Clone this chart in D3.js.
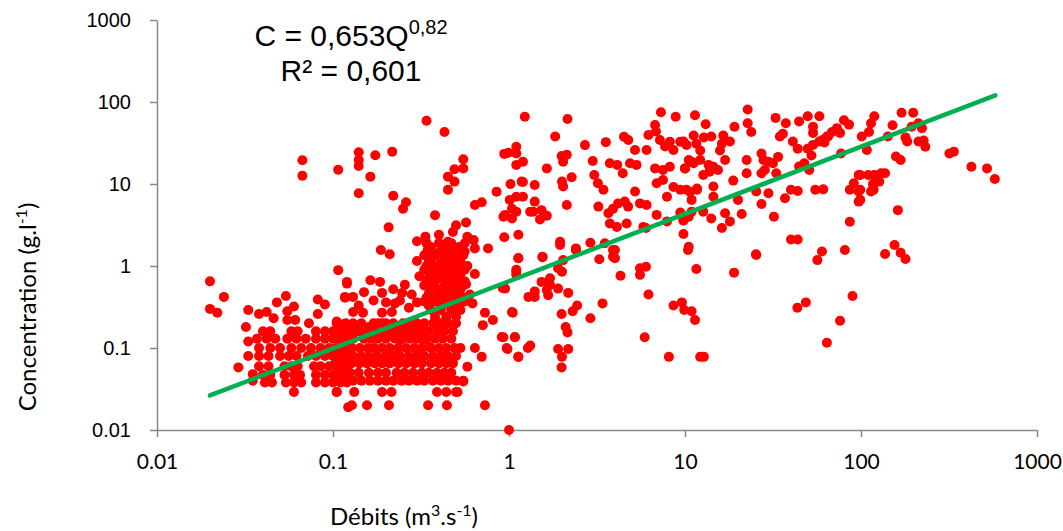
<!DOCTYPE html>
<html>
<head>
<meta charset="utf-8">
<script src="https://cdn.jsdelivr.net/npm/d3@7"></script>
<style>
  body { margin: 0; background: #fff; }
  svg { display: block; }
</style>
</head>
<body>
<svg width="1063" height="531"></svg>
<script>
// Débits Q (m3/s) vs concentration C (g/l)
const tickValues = [0.01, 0.1, 1, 10, 100, 1000];

// trend C = a * Q^b
const trendA = 0.653;
const trendB = 0.82;
const trendRange = [0.02, 580];

// sparse low flow points [Q, C]
const lowFlowPoints = [
  [0.02,0.65],[0.02,0.3],[0.022,0.27],[0.024,0.42],[0.029,0.058],
  [0.032,0.18],[0.033,0.29],[0.033,0.12],[0.033,0.08],[0.035,0.048],[0.035,0.04],
  [0.038,0.26],[0.042,0.275],[0.046,0.23],[0.048,0.36],[0.054,0.43],[0.06,0.32],
  [0.055,0.28],[0.055,0.22],[0.061,0.22],[0.073,0.2],[0.082,0.39],[0.09,0.34],[0.082,0.26],
  [0.107,0.89],[0.12,0.61],[0.117,0.41],[0.107,0.2],
  [0.06,0.029],[0.105,0.029],[0.122,0.019],
  [0.067,19.5],[0.067,12.6],[0.107,14.9]
];

// measured concentrations fall on fixed levels, so the dense part is read row by row
const lowRows = [
  {c:0.16, q:[0.04,0.044,0.058,0.063,0.08,0.09,0.1,0.11]},
  {c:0.13, q:[0.037,0.042,0.047,0.055,0.062,0.07,0.08,0.09,0.1,0.115]},
  {c:0.1, q:[0.038,0.044,0.05,0.058,0.066,0.075,0.085,0.095,0.11,0.12]},
  {c:0.08, q:[0.038,0.043,0.05,0.056,0.062,0.072,0.08,0.09,0.1,0.11,0.12]},
  {c:0.06, q:[0.038,0.043,0.053,0.058,0.063,0.078,0.085,0.095,0.105,0.12]},
  {c:0.047, q:[0.04,0.044,0.053,0.06,0.065,0.08,0.09,0.1,0.11,0.12]},
  {c:0.038, q:[0.041,0.045,0.054,0.06,0.066,0.08,0.09,0.1,0.11,0.12]}
];

const cloudRows = [
  {c:0.2, q:[0.105,0.118,0.13,0.145,0.17,0.19,0.2,0.22,0.25,0.27,0.3,0.33,0.37,0.41,0.45,0.5]},
  {c:0.16, q:[0.103,0.112,0.125,0.14,0.155,0.175,0.195,0.215,0.24,0.26,0.28,0.31,0.35,0.39,0.43,0.48]},
  {c:0.13, q:[0.108,0.12,0.13,0.15,0.165,0.18,0.2,0.225,0.25,0.275,0.3,0.34,0.38,0.42,0.47]},
  {c:0.1, q:[0.104,0.115,0.128,0.142,0.158,0.172,0.19,0.21,0.235,0.26,0.29,0.32,0.36,0.4,0.44,0.49,0.53]},
  {c:0.08, q:[0.106,0.118,0.13,0.145,0.16,0.178,0.2,0.22,0.24,0.27,0.3,0.33,0.37,0.41,0.45,0.5]},
  {c:0.065, q:[0.103,0.114,0.127,0.141,0.156,0.173,0.19,0.21,0.235,0.26,0.29,0.32,0.36,0.4,0.44,0.48]},
  {c:0.05, q:[0.11,0.125,0.14,0.16,0.18,0.2,0.23,0.255,0.285,0.32,0.35,0.39,0.43,0.47]},
  {c:0.04, q:[0.104,0.116,0.13,0.145,0.162,0.18,0.2,0.22,0.245,0.27,0.3,0.33,0.37,0.41,0.45,0.5,0.55]}
];

// tall column of points around Q 0.3 - 0.6
const columnRows = [
  {c:1.9, q:[0.34,0.4,0.47]},
  {c:1.7, q:[0.36,0.44,0.52]},
  {c:1.5, q:[0.35,0.41,0.49,0.56]},
  {c:1.35, q:[0.33,0.38,0.46,0.55]},
  {c:1.2, q:[0.36,0.43,0.5]},
  {c:1.1, q:[0.35,0.41,0.47,0.53]},
  {c:1.0, q:[0.34,0.39,0.45,0.55]},
  {c:0.9, q:[0.33,0.38,0.43,0.49,0.56]},
  {c:0.8, q:[0.36,0.41,0.47,0.53]},
  {c:0.72, q:[0.35,0.4,0.46,0.52]},
  {c:0.65, q:[0.34,0.38,0.44,0.5,0.56]},
  {c:0.58, q:[0.33,0.37,0.43,0.48,0.55]},
  {c:0.52, q:[0.36,0.41,0.47,0.53]},
  {c:0.46, q:[0.35,0.4,0.45,0.51]},
  {c:0.41, q:[0.34,0.39,0.44,0.5,0.56]},
  {c:0.37, q:[0.33,0.38,0.43,0.49,0.56]},
  {c:0.33, q:[0.35,0.41,0.46,0.52]},
  {c:0.29, q:[0.36,0.41,0.47,0.53]},
  {c:0.24, q:[0.38,0.44,0.5]}
];

const cloudPoints = [
  [0.12,0.64],[0.117,0.42],[0.13,0.42],[0.163,0.67],[0.15,0.48],[0.185,0.64],[0.19,0.47],
  [0.256,0.59],[0.247,0.47],[0.2,0.36],[0.225,0.35],[0.24,0.38],[0.216,0.275],[0.19,0.27],
  [0.27,0.31],[0.3,0.36],[0.13,0.275],[0.148,0.27],[0.105,0.21],[0.12,0.165],[0.137,0.175],
  [0.16,0.18],[0.18,0.2],[0.19,0.144],[0.23,0.165],[0.24,0.125],[0.267,0.136],[0.29,0.175],
  [0.33,0.156],[0.325,0.125],[0.355,0.103],[0.28,0.45],[0.22,0.52],[0.17,0.38],[0.14,0.33],
  [0.105,0.029],[0.132,0.029],[0.19,0.029],[0.215,0.029],[0.39,0.029],[0.44,0.029],[0.51,0.029],
  [0.128,0.02],[0.156,0.02],[0.208,0.02],[0.347,0.02],[0.444,0.02],[0.73,0.02],
  [1.13,1.25],[1.1,0.9],[0.92,0.54],[1.04,0.275],[0.91,0.136],[1.08,0.136],[0.97,0.1],
  [1.13,0.078],[1.28,0.1],[0.73,0.27],[0.81,0.22],[0.71,0.19],[0.64,0.1],[0.7,0.078],
  [0.58,0.059],[0.55,0.039],[0.5,0.029],[0.58,1.0],[0.64,0.8],[0.57,0.6],[0.62,0.35],[0.6,0.45],
  [0.3,2.0],[0.4,2.4],[0.48,2.6],[0.31,0.75],[0.3,1.15]
];

const upperLeftPoints = [
  [0.34,59],[0.43,43],[0.14,24.4],[0.14,19.6],[0.14,16.6],[0.174,22.4],[0.217,24.8],[0.163,12.3],
  [0.14,7.7],[0.22,7.2],[0.26,6],[0.25,5],[0.207,2.96],[0.187,1.57],[0.21,1.39],[0.38,4.15],
  [0.5,3.13],[0.57,3.4],[0.335,2.28],[0.345,1.57],[0.45,8.5],[0.45,12.3],[0.49,10.7],[0.49,15.1],
  [0.55,20],[0.55,15.5],[0.64,5.55],[0.7,6],[0.85,8.05],[0.93,4],[0.94,2.24],[1.13,2.4],
  [0.76,1.64],[0.63,2.07],[0.56,1.89],[0.64,1.64],[1.13,1.24],[1.23,66],[0.94,23.3],[0.99,24],
  [1.1,28.5],[1.1,23.6],[1.2,18.7],[1.1,17.1],[1.02,10],[1.2,10.6],[1.01,6.4],[1.1,7],[1.2,7],
  [1.04,5],[1.1,4.6],[0.95,4.2],[1.04,3.8],[1.32,4.6],[0.45,1.98],[0.39,1.43],[0.44,1.57],
  [0.5,1.43],[0.58,2.27]
];

const midFlowPoints = [
  [2.15,62],[1.83,38],[1.64,15.5],[1.99,22],[2.13,22.7],[2.03,18.7],[2.7,29.8],[2.99,19.1],
  [3.55,32.4],[3.05,12.9],[3.74,17.9],[4.12,17.1],[4.43,13.5],[4.5,37.7],[4.76,34.4],[5.2,26],
  [6.05,26],[6.76,52.3],[6.84,43.6],[7.3,75],[8.85,66],[11.4,69],[6.2,39.5],[7.2,34.4],[7.7,28.7],
  [8.2,32.8],[8.6,26],[9.4,32.8],[6.76,15.5],[7.5,14.8],[8.2,16.2],[10,15.5],[10.9,18.7],[12.2,19.6],
  [6.9,10.2],[7.5,11.2],[8.6,9.2],[9.4,8.5],[10.7,8],[11.7,8.8],[7.9,7],[5.2,8.1],[1.4,9.7],
  [1.18,10.7],[2,10.7],[2.03,9.3],[2.27,12.1],[3.2,10.2],[3.44,8.5],[1.4,6.1],[1.37,4.6],[1.53,4.8],
  [1.64,4.1],[1.5,3.7],[2.13,5.55],[3.22,5.3],[3.67,4.4],[3.9,5],[4.17,5.8],[4.55,6.1],[4.75,5.3],
  [3.74,3.3],[4.1,3.0],[4.66,3.3],[5.55,5.8],[6.05,5.55],[6.9,4.2],[7.9,3.5],[9.8,3.6],[10.2,4],
  [10.9,4.6],[9.8,2.46],[10.5,1.72],[5.8,3.0],[6,2.9],[1.95,1.98],[1.95,1.8],[2.4,1.64],[2.9,1.92],
  [3.5,1.89],[3.9,1.57],[3.9,1.3],[1.55,1.3],[4.87,17.9],[5.3,17.1],
  [1.55,1.28],[1.1,0.85],[1.1,0.78],[0.95,0.53],[1.53,0.64],[1.71,0.71],[1.71,0.59],[1.64,0.51],
  [1.9,0.53],[1.4,0.49],[1.29,0.42],[1.4,0.42],[1.67,0.44],[2.17,0.47],[1.9,0.94],[2.03,1.18],
  [2,0.85],[2.4,1.57],[3.26,1.21],[4.0,1.57],[4.0,1.24],[4.3,0.76],[5.55,0.78],[5.55,0.94],[6,0.98],
  [6.2,0.45],[10.4,1.57],[11.6,0.92],[1.05,0.27],[0.93,0.135],[1.08,0.135],[0.98,0.097],[1.13,0.078],
  [1.32,0.107],[1.99,0.26],[2.3,0.28],[2.44,0.33],[2.9,0.23],[3.4,0.35],[2.1,0.18],[2.15,0.155],
  [1.9,0.097],[2.17,0.097],[2.0,0.078],[1.99,0.058],[5.9,0.135],[8.6,0.33],[9.6,0.36],[9.9,0.29],
  [10.9,0.28],[11.4,0.22],[8.1,0.078],[12.2,0.078],[1.0,0.01]
];

const highFlowPoints = [
  [13.1,53.6],[22.7,81],[22.7,55],[23.8,43],[19.1,50],[32.7,64],[37.4,55],[44.5,58],[49.8,67],
  [53.4,50],[53.4,42],[58,67],[64,38],[68.4,43],[73,48],[80,60],[85.5,53],[76,42],[119,67],[114,55],
  [111,43],[101,38],[11.2,39],[14.1,38],[16.5,39],[12.8,37],[9.8,33],[10.2,30],[11.6,31],[12.2,25.6],
  [16.2,31],[18,33],[15.8,25.6],[34.6,38],[36,41],[41,33],[43.7,27],[49.8,27],[52.3,22.3],[53.4,30],
  [58,33],[60.5,34.4],[62,32],[65,38],[27.2,23.6],[27.9,19.6],[29.8,18.7],[33.8,21.4],[31.6,17.9],
  [22.4,19.6],[16.9,19.6],[10.5,19.6],[11.2,17.9],[10,15.5],[13.6,17.1],[14.5,16.2],[15.4,14.8],
  [12.7,12.9],[13.8,14.1],[22.4,13.5],[27.2,13.5],[28.4,14.8],[33,13.5],[44.5,16.3],[47.6,17.9],
  [50.8,14.8],[10.2,8.5],[11.7,8.5],[14.5,9.3],[14.5,7],[10.9,6.4],[18.8,11],[20,6.4],[21,4.3],
  [25.4,8.1],[29.8,7.7],[27.2,5.7],[37,6.7],[40,8.5],[43.7,8.2],[32,4],[55,8.5],[61,8.6],[9.4,4.5],
  [10.5,4],[9.8,3.6],[12.7,4.6],[14.1,3.8],[16.2,2.9],[16.9,4.4],[18,3.5],[25.3,1.39],[40,2.1],
  [43.7,2.1],[56.5,1.18],[60,1.5],[81,1.57],[86.4,3.47],[97,12.9],[91,10.2],[86.4,8.5],[97,8.1],
  [97,6.1],[110,12.9],[118,10.2],[118,8.5],[130,13.5],[108,26],[77,23.6],
  [19,0.83],[25.4,1.36],[12.8,0.078],[43.5,0.31],[48.6,0.36],[89.5,0.43],[76,0.215],[64,0.116],
  [170,74],[198,74],[151,52],[194,50],[212,55],[222,48],[142,38],[179,37],[183,33],[212,33],
  [227,34],[232,28.5],[158,21.6],[168,19.6],[318,23.6],[337,24.8],[424,16.2],[520,15.5],[576,11.5],
  [99,12.9],[119,12.9],[137,13.5],[117,9.9],[127,10.7],[99,8.5],[114,8.1],[99,6.4],[162,4.8],
  [155,1.8],[137,1.4],[168,1.45],[179,1.22]
];

function rowsToPoints(rows) {
  let out = [];
  rows.forEach(r => r.q.forEach(q => out.push([q, r.c])));
  return out;
}

const points = [].concat(
  lowFlowPoints, rowsToPoints(lowRows), rowsToPoints(cloudRows), rowsToPoints(columnRows),
  cloudPoints, upperLeftPoints, midFlowPoints, highFlowPoints
);

const svg = d3.select("svg");

const area = { left: 157, right: 1037, top: 20, bottom: 430 };

const scX = d3.scaleLog().domain([0.01, 1000]).range([area.left, area.right]);
const scY = d3.scaleLog().domain([0.01, 1000]).range([area.bottom, area.top]);

const axisColor = "#898989";

const axisX = d3.axisBottom(scX)
  .tickValues(tickValues)
  .tickFormat(d => String(d))
  .tickSize(7)
  .tickSizeOuter(0)
  .tickPadding(17);

const axisY = d3.axisLeft(scY)
  .tickValues(tickValues)
  .tickFormat(d => String(d))
  .tickSize(7)
  .tickSizeOuter(0)
  .tickPadding(19);

const gx = svg.append("g")
  .attr("transform", `translate(0, ${area.bottom})`)
  .call(axisX);
gx.selectAll("text")
  .style("font-family", "Lato, 'Open Sans', sans-serif")
  .style("font-size", "21px")
  .style("fill", "#000");

const gy = svg.append("g")
  .attr("transform", `translate(${area.left}, 0)`)
  .call(axisY);
gy.selectAll("text")
  .style("font-family", "'Liberation Sans', Arial, sans-serif")
  .style("font-size", "20px")
  .style("fill", "#000");

svg.selectAll(".domain, .tick line")
  .attr("stroke", axisColor)
  .attr("stroke-width", 1.5);

// points
svg.append("g")
  .selectAll("circle")
  .data(points)
  .enter()
  .append("circle")
  .attr("cx", d => scX(d[0]))
  .attr("cy", d => scY(d[1]))
  .attr("r", 5)
  .style("fill", "#ff0000");

// power trend line
const trendLine = d3.line()
  .x(d => scX(d))
  .y(d => scY(trendA * Math.pow(d, trendB)));

svg.append("path")
  .datum(trendRange)
  .attr("d", trendLine)
  .attr("fill", "none")
  .attr("stroke", "#00b050")
  .attr("stroke-width", 4.5)
  .attr("stroke-linecap", "round");

// equation
const eq = svg.append("text")
  .attr("x", 351)
  .attr("y", 46)
  .attr("text-anchor", "middle")
  .style("font-family", "'Liberation Sans', Arial, sans-serif")
  .style("font-size", "30px");
eq.append("tspan").text("C = 0,653Q");
eq.append("tspan").attr("dy", -12).style("font-size", "20px").text("0,82");

svg.append("text")
  .attr("x", 351)
  .attr("y", 81)
  .attr("text-anchor", "middle")
  .style("font-family", "'Liberation Sans', Arial, sans-serif")
  .style("font-size", "30px")
  .text("R² = 0,601");

// axis titles
const tx = svg.append("text")
  .attr("x", 404)
  .attr("y", 525)
  .attr("text-anchor", "middle")
  .style("font-family", "Lato, 'Open Sans', sans-serif")
  .style("font-size", "24px");
tx.append("tspan").text("Débits (m");
tx.append("tspan").attr("dy", -9).style("font-size", "16px").text("3");
tx.append("tspan").attr("dy", 9).text(".s");
tx.append("tspan").attr("dy", -9).style("font-size", "16px").text("-1");
tx.append("tspan").attr("dy", 9).text(")");

const ty = svg.append("text")
  .attr("transform", "translate(36, 307) rotate(-90)")
  .attr("text-anchor", "middle")
  .style("font-family", "Lato, 'Open Sans', sans-serif")
  .style("font-size", "24px");
ty.append("tspan").text("Concentration (g.l");
ty.append("tspan").attr("dy", -9).style("font-size", "16px").text("-1");
ty.append("tspan").attr("dy", 9).text(")");
</script>
</body>
</html>
